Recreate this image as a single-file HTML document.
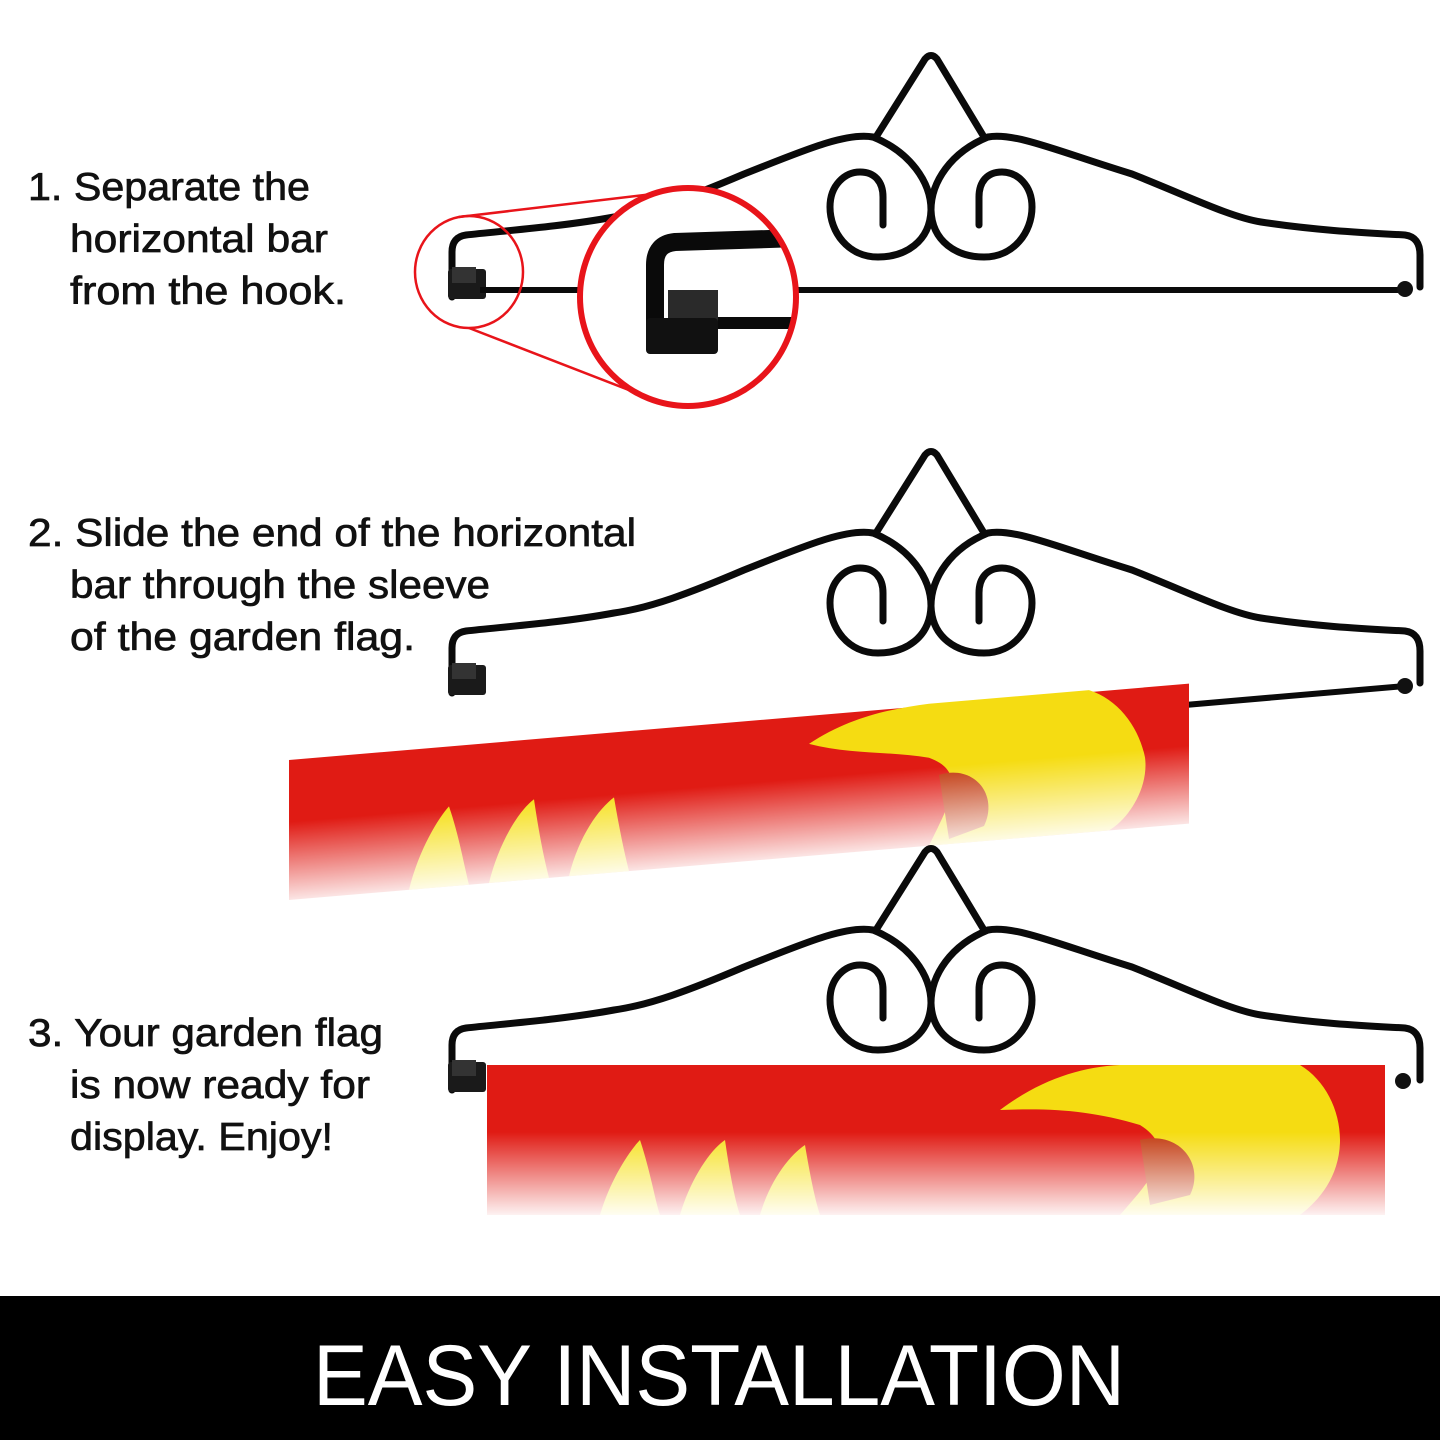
<!DOCTYPE html>
<html><head><meta charset="utf-8"><style>
html,body{margin:0;padding:0;background:#fff;width:1440px;height:1440px;overflow:hidden}
svg{display:block}
.t{font-family:"Liberation Sans",sans-serif;font-size:39px;fill:#111;stroke:#111;stroke-width:0.7}
</style></head><body>
<svg width="1440" height="1440" viewBox="0 0 1440 1440" xmlns="http://www.w3.org/2000/svg">
<defs>
  <linearGradient id="fade2" x1="0" y1="0" x2="0" y2="1">
    <stop offset="0" stop-color="#fff"/><stop offset="0.45" stop-color="#fff"/><stop offset="1" stop-color="#000"/>
  </linearGradient>
  <mask id="m2" maskUnits="userSpaceOnUse" x="-10" y="-10" width="930" height="160">
    <rect x="-10" y="-10" width="930" height="160" fill="url(#fade2)"/>
  </mask>
  <mask id="m3" maskUnits="userSpaceOnUse" x="480" y="1060" width="910" height="160">
    <rect x="480" y="1060" width="910" height="160" fill="url(#fade2)"/>
  </mask>
  <clipPath id="bigc"><ellipse cx="688" cy="297" rx="108" ry="109"/></clipPath>
  <g id="hanger" fill="none" stroke="#0a0a0a" stroke-width="7" stroke-linecap="round" stroke-linejoin="round">
    <path d="M876 930 L925 852 Q931 845 937 852 L984 930"/>
    <path d="M873 930 C845 925 800 945 744 967 C690 990 650 1005 614 1010 C560 1020 500 1024 466 1028 Q452 1030 452 1045 L452 1090"/>
    <path d="M988 930 C1015 925 1060 945 1132 967 C1190 990 1230 1010 1261 1015 C1320 1024 1370 1026 1405 1028 Q1420 1030 1420 1048 L1420 1080"/>
    <path d="M873 930 C910 945 931 975 931 1003 C930 1035 905 1050 878 1050 C848 1050 830 1025 830 1000 C830 978 845 965 860 965 C875 965 883 975 883 990 L883 1018"/>
    <path d="M988 930 C951 945 931 975 931 1003 C932 1035 957 1050 984 1050 C1014 1050 1032 1025 1032 1000 C1032 978 1017 965 1002 965 C987 965 979 975 979 990 L979 1018"/>
    <rect x="448" y="1062" width="38" height="30" rx="3" fill="#1a1a1a" stroke="none"/>
    <rect x="452" y="1060" width="24" height="16" fill="#333" stroke="none"/>
  </g>
</defs>

<g transform="translate(0,-793)"><use href="#hanger"/></g>
<line x1="480" y1="290" x2="1405" y2="290" stroke="#0a0a0a" stroke-width="6"/>
<circle cx="1405" cy="289" r="8" fill="#111"/>

<ellipse cx="469" cy="272" rx="54" ry="56" fill="none" stroke="#e8141a" stroke-width="2.5"/>
<line x1="459" y1="217" x2="703" y2="188" stroke="#e8141a" stroke-width="2.5"/>
<line x1="469" y1="328" x2="647" y2="397" stroke="#e8141a" stroke-width="2.5"/>
<ellipse cx="688" cy="297" rx="108" ry="109" fill="#fff"/>
<g clip-path="url(#bigc)">
  <path d="M800 238 L675 242 Q655 244 655 265 L655 345" fill="none" stroke="#0a0a0a" stroke-width="18" stroke-linejoin="round"/>
  <rect x="668" y="290" width="50" height="36" fill="#2a2a2a"/>
  <rect x="646" y="318" width="72" height="36" rx="4" fill="#111"/>
  <line x1="718" y1="323" x2="800" y2="323" stroke="#0a0a0a" stroke-width="12"/>
</g>
<ellipse cx="688" cy="297" rx="108" ry="109" fill="none" stroke="#e8141a" stroke-width="6"/>

<g transform="translate(0,-397)"><use href="#hanger"/></g>
<line x1="1185" y1="705" x2="1405" y2="686" stroke="#0a0a0a" stroke-width="6"/>
<circle cx="1405" cy="686" r="8" fill="#111"/>

<g transform="translate(289,760) skewY(-4.85)">
  <g mask="url(#m2)">
    <rect x="0" y="0" width="900" height="140" fill="#e01b14"/>
    <path d="M520 28 C560 5 600 0 640 -2 L800 -2 C830 10 850 40 856 70 C860 100 840 130 820 140 L640 140 C660 100 680 70 640 52 C600 42 560 42 520 28Z" fill="#f5dc12"/>
    <path d="M650 70 C685 62 710 95 695 125 L660 135 Z" fill="#c23a10"/>
    <path d="M120 140 C130 100 150 70 160 60 C170 90 175 120 180 140 Z M200 140 C210 100 230 70 245 60 C250 95 255 120 260 140 Z M280 140 C290 100 310 75 325 65 C330 95 335 120 340 140Z" fill="#f6e020"/>
  </g>
</g>

<use href="#hanger"/>
<circle cx="1403" cy="1081" r="8" fill="#111"/>

<g mask="url(#m3)">
  <rect x="487" y="1065" width="898" height="150" fill="#e01b14"/>
  <path d="M1000 1110 C1040 1080 1080 1067 1120 1065 L1300 1065 C1325 1080 1340 1110 1340 1140 C1340 1175 1320 1200 1300 1215 L1120 1215 C1150 1180 1180 1150 1140 1125 C1090 1110 1050 1108 1000 1110Z" fill="#f5dc12"/>
  <path d="M1140 1140 C1180 1130 1205 1165 1190 1195 L1150 1205 Z" fill="#c23a10"/>
  <path d="M600 1215 C610 1180 630 1150 640 1140 C650 1170 655 1200 660 1215 Z M680 1215 C690 1180 710 1150 725 1140 C730 1175 735 1200 740 1215 Z M760 1215 C770 1180 790 1155 805 1145 C810 1175 815 1200 820 1215Z" fill="#f6e020"/>
</g>

<text class="t" x="28" y="200" textLength="282" lengthAdjust="spacingAndGlyphs">1. Separate the</text>
<text class="t" x="70" y="252" textLength="258" lengthAdjust="spacingAndGlyphs">horizontal bar</text>
<text class="t" x="70" y="304" textLength="276" lengthAdjust="spacingAndGlyphs">from the hook.</text>

<text class="t" x="28" y="546" textLength="608" lengthAdjust="spacingAndGlyphs">2. Slide the end of the horizontal</text>
<text class="t" x="70" y="598" textLength="420" lengthAdjust="spacingAndGlyphs">bar through the sleeve</text>
<text class="t" x="70" y="650" textLength="345" lengthAdjust="spacingAndGlyphs">of the garden flag.</text>

<text class="t" x="28" y="1046" textLength="355" lengthAdjust="spacingAndGlyphs">3. Your garden flag</text>
<text class="t" x="70" y="1098" textLength="300" lengthAdjust="spacingAndGlyphs">is now ready for</text>
<text class="t" x="70" y="1150" textLength="263" lengthAdjust="spacingAndGlyphs">display. Enjoy!</text>

<rect x="0" y="1296" width="1440" height="144" fill="#000"/>
<text x="313" y="1405" textLength="812" lengthAdjust="spacingAndGlyphs" font-family="Liberation Sans, sans-serif" font-size="86" fill="#fff">EASY INSTALLATION</text>
</svg>
</body></html>
